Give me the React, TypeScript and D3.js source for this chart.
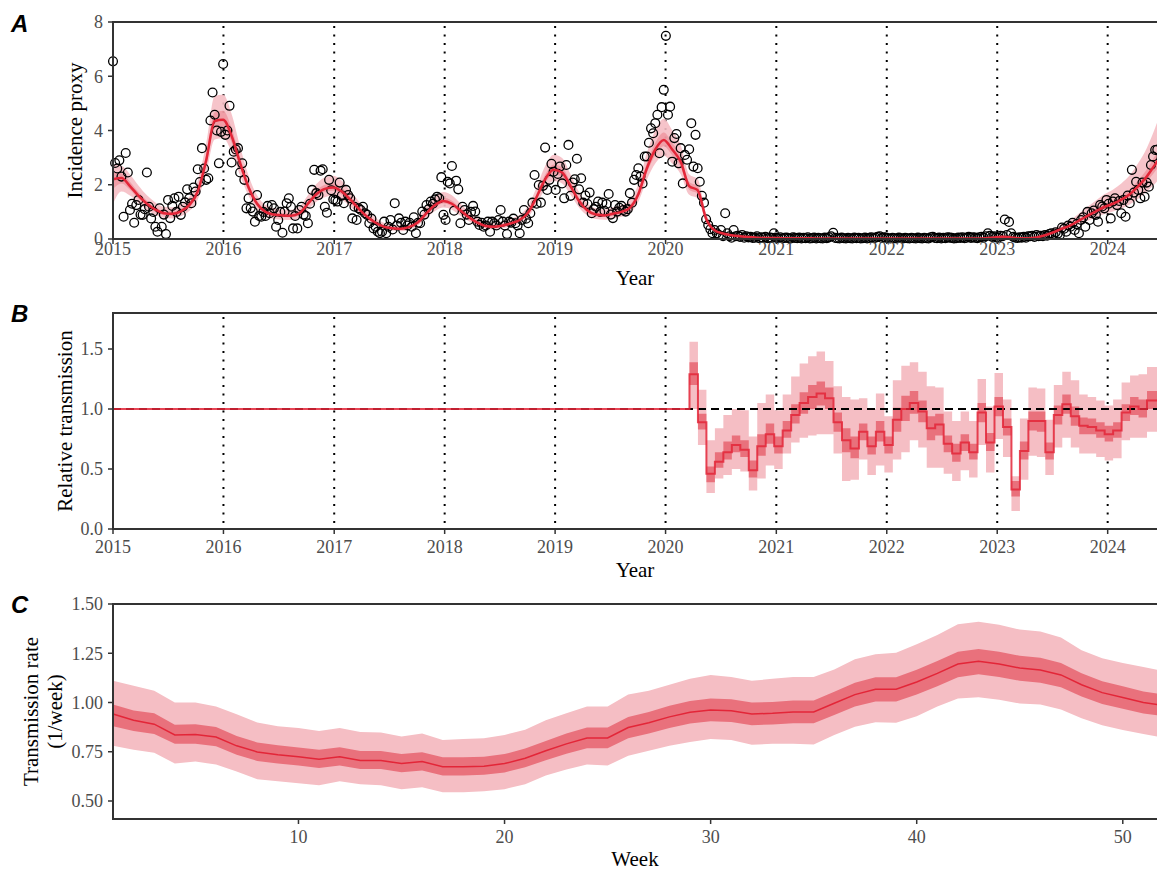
import React from 'react'
import * as d3 from 'd3'

const width = 1157
const height = 870
const left = 113
const right = 1157

const serif = "'Liberation Serif', 'DejaVu Serif', serif"
const axisColor = '#333333'
const tickText = '#4d4d4d'
const outerFill = '#f5bec4'
const innerFill = '#e9717c'
const lineColor = '#e32638'

const years = [2015, 2016, 2017, 2018, 2019, 2020, 2021, 2022, 2023, 2024]
const yTicksA = [0, 2, 4, 6, 8]
const yTicksB = [0, 0.5, 1.0, 1.5]
const yTicksC = [0.5, 0.75, 1.0, 1.25, 1.5]
const weekTicks = [10, 20, 30, 40, 50]

// weekly observations (incidence proxy), starting 2015-01-01
const obs2015 = [6.55, 2.8, 2.6, 2.9, 2.3, 0.82, 3.17, 2.45, 1.07, 1.3,
  0.6, 1.25, 1.44, 0.9, 0.89, 1.1, 2.45, 1.19, 0.76, 1.0,
  0.45, 0.27, 1.13, 0.45, 0.9, 0.18, 1.44, 0.77, 1.22, 1.5,
  1.0, 1.56, 0.89, 1.19, 1.35, 1.83, 1.5, 1.32, 1.9, 1.75,
  2.57, 2.1, 3.35, 2.6, 2.18, 2.24, 4.37, 5.4, 4.58, 4.0,
  2.79, 3.95, 6.45]
const obs2016 = [3.84, 4.0, 4.91, 2.82, 3.22, 3.3, 3.35, 2.45, 2.79, 2.18,
  1.13, 1.5, 1.14, 1.01, 0.64, 1.62, 0.85, 0.82, 1.0, 0.85,
  1.22, 0.95, 1.25, 1.13, 0.45, 0.7, 1.0, 0.23, 1.01, 1.32,
  1.5, 1.19, 0.39, 0.85, 0.39, 1.07, 1.19, 0.9, 0.85, 0.58,
  1.3, 1.81, 2.55, 1.69, 1.62, 2.52, 2.57, 1.19, 0.97, 2.18, 1.8, 1.46]
const obs2017 = [1.44, 1.38, 2.08, 1.6, 1.32, 1.81, 1.62, 1.5, 0.76, 1.19,
  0.7, 1.13, 1.07, 1.19, 0.95, 0.89, 0.58, 0.75, 0.39, 0.45,
  0.27, 0.21, 0.27, 0.64, 0.21, 0.45, 0.7, 0.35, 1.32, 0.5,
  0.76, 0.6, 0.33, 0.64, 0.5, 0.6, 0.45, 0.8, 0.21, 0.6,
  0.58, 1.01, 0.9, 1.25, 1.1, 1.38, 1.3, 1.46, 1.56, 1.5, 2.28, 0.89]
const obs2018 = [0.7, 2.11, 2.05, 2.69, 1.04, 2.15, 1.83, 0.58, 1.19, 1.07,
  0.9, 0.7, 1.0, 1.22, 1.01, 0.64, 0.52, 0.6, 0.45, 0.5,
  0.64, 0.27, 0.64, 0.58, 0.5, 0.7, 1.07, 0.64, 0.5, 0.18,
  0.64, 0.6, 0.75, 0.58, 0.5, 0.21, 0.7, 1.07, 0.75, 0.58,
  0.95, 1.34, 2.36, 1.3, 1.99, 1.34, 1.96, 3.37, 1.81, 2.18, 2.77, 2.48]
const obs2019 = [1.81, 2.4, 2.67, 2.05, 1.5, 2.73, 3.47, 1.59, 2.08, 2.2,
  2.96, 1.83, 2.24, 1.34, 1.6, 1.29, 1.71, 0.95, 1.1, 1.19,
  1.38, 1.0, 1.34, 1.04, 1.29, 1.66, 0.9, 0.77, 1.25, 1.01,
  1.15, 1.22, 1.07, 1.01, 1.1, 1.69, 1.34, 2.18, 2.36, 2.61,
  2.3, 2.05, 3.04, 3.04, 3.55, 4.08, 3.9, 4.27, 4.58, 3.16, 4.86, 5.5]
const obs2020 = [7.49, 4.58, 4.88, 2.85, 3.72, 3.87, 2.79, 3.35, 2.05, 3.1,
  2.92, 3.31, 4.27, 2.67, 3.84, 2.61, 2.11, 1.59, 1.34, 0.73,
  0.52, 0.36, 0.21, 0.33, 0.21, 0.15, 0.33, 0.1, 0.95, 0.21,
  0.1, 0.05, 0.33, 0.1, 0.12, 0.08, 0.15, 0.05, 0.1, 0.06,
  0.08, 0.04, 0.05, 0.1, 0.03, 0.06, 0.04, 0.08, 0.03, 0.05, 0.04, 0.21]
const obs2021 = [0.05, 0.03, 0.06, 0.02, 0.04, 0.05, 0.03, 0.02, 0.06, 0.04,
  0.03, 0.05, 0.02, 0.04, 0.03, 0.06, 0.02, 0.03, 0.05, 0.02,
  0.04, 0.03, 0.02, 0.05, 0.03, 0.06, 0.1, 0.23, 0.04, 0.03,
  0.02, 0.05, 0.03, 0.02, 0.04, 0.03, 0.02, 0.05, 0.03, 0.04,
  0.02, 0.03, 0.05, 0.02, 0.04, 0.06, 0.03, 0.05, 0.08, 0.1, 0.04, 0.06]
const obs2022 = [0.05, 0.03, 0.02, 0.04, 0.03, 0.02, 0.05, 0.03, 0.02, 0.04,
  0.03, 0.02, 0.04, 0.03, 0.02, 0.05, 0.03, 0.02, 0.04, 0.03,
  0.02, 0.06, 0.08, 0.04, 0.03, 0.05, 0.02, 0.04, 0.03, 0.06,
  0.05, 0.04, 0.02, 0.03, 0.05, 0.04, 0.06, 0.03, 0.05, 0.08,
  0.04, 0.06, 0.05, 0.03, 0.06, 0.08, 0.05, 0.1, 0.21, 0.12, 0.08, 0.1]
const obs2023 = [0.06, 0.05, 0.12, 0.1, 0.72, 0.15, 0.63, 0.21, 0.08, 0.05,
  0.04, 0.06, 0.05, 0.08, 0.05, 0.1, 0.1, 0.12, 0.08, 0.15,
  0.1, 0.12, 0.1, 0.15, 0.12, 0.18, 0.21, 0.15, 0.25, 0.2,
  0.15, 0.42, 0.38, 0.27, 0.5, 0.45, 0.6, 0.33, 0.55, 0.21,
  0.7, 0.8, 0.45, 1.0, 0.7, 0.95, 1.05, 0.89, 0.64, 1.25, 1.2, 1.13]
const obs2024 = [1.44, 1.3, 0.76, 1.38, 1.5, 1.25, 1.4, 0.95, 1.44, 0.82,
  1.6, 1.32, 2.55, 1.71, 2.11, 1.81, 1.5, 2.08, 1.56, 2.08,
  1.93, 2.73, 3.04, 3.28, 3.3]

// model fit for panel A, one node every 28 days from 2015-01-01
const fitMean = [2.2, 2.25, 1.95, 1.6, 1.3, 1.08, 0.95, 0.93, 1.02, 1.25,
  1.75, 2.9, 4.35, 4.4, 3.8, 2.8, 1.9, 1.3, 1.0, 0.9,
  0.87, 0.86, 0.95, 1.3, 1.65, 1.85, 1.9, 1.75, 1.45, 1.12,
  0.82, 0.6, 0.45, 0.4, 0.38, 0.45, 0.62, 0.95, 1.25, 1.4,
  1.3, 1.05, 0.8, 0.6, 0.48, 0.45, 0.5, 0.58, 0.7, 0.98,
  1.55, 2.2, 2.55, 2.45, 1.95, 1.4, 1.05, 0.9, 0.87, 0.93,
  1.0, 1.15, 1.65, 2.6, 3.3, 3.65, 3.3, 2.85, 1.95, 1.8,
  0.75, 0.32, 0.2, 0.14, 0.1, 0.07, 0.05, 0.04, 0.04, 0.03,
  0.03, 0.03, 0.03, 0.02, 0.02, 0.02, 0.02, 0.02, 0.02, 0.02,
  0.02, 0.02, 0.02, 0.02, 0.02, 0.02, 0.02, 0.02, 0.02, 0.02,
  0.02, 0.02, 0.02, 0.03, 0.06, 0.08, 0.06, 0.03, 0.03, 0.06,
  0.14, 0.25, 0.38, 0.5, 0.68, 0.85, 1.02, 1.18, 1.3, 1.45,
  1.65, 1.95, 2.3, 2.75, 3.2]
const fitLo95 = [1.3, 1.75, 1.6, 1.33, 1.08, 0.89, 0.78, 0.76, 0.84, 1.03,
  1.46, 2.44, 3.67, 3.71, 3.2, 2.35, 1.59, 1.08, 0.82, 0.74,
  0.71, 0.7, 0.78, 1.08, 1.37, 1.54, 1.59, 1.46, 1.2, 0.92,
  0.67, 0.48, 0.35, 0.31, 0.29, 0.35, 0.5, 0.78, 1.03, 1.16,
  1.08, 0.86, 0.65, 0.48, 0.38, 0.35, 0.4, 0.46, 0.57, 0.8,
  1.29, 1.84, 2.14, 2.05, 1.63, 1.16, 0.86, 0.74, 0.71, 0.76,
  0.82, 0.95, 1.37, 2.18, 2.78, 3.07, 2.78, 2.39, 1.63, 1.5,
  0.61, 0.24, 0.14, 0.09, 0.06, 0.03, 0.02, 0.01, 0.01, 0.01,
  0, 0, 0, 0, 0, 0, 0, 0, 0, 0,
  0, 0, 0, 0, 0, 0, 0, 0, 0, 0,
  0, 0, 0, 0, 0.02, 0.03, 0.02, 0, 0, 0.02,
  0.09, 0.18, 0.29, 0.39, 0.53, 0.66, 0.8, 0.92, 1.01, 1.12,
  1.27, 1.48, 1.74, 2.05, 2.4]
const fitHi95 = [2.75, 2.7, 2.39, 1.97, 1.61, 1.35, 1.19, 1.17, 1.27, 1.55,
  2.15, 3.53, 5.27, 5.33, 4.61, 3.41, 2.33, 1.61, 1.25, 1.13,
  1.09, 1.08, 1.19, 1.61, 2.03, 2.27, 2.33, 2.15, 1.79, 1.39,
  1.03, 0.77, 0.59, 0.53, 0.51, 0.59, 0.79, 1.19, 1.55, 1.73,
  1.61, 1.31, 1.01, 0.77, 0.63, 0.59, 0.65, 0.75, 0.89, 1.23,
  1.91, 2.69, 3.11, 2.99, 2.39, 1.73, 1.31, 1.13, 1.09, 1.17,
  1.25, 1.43, 2.03, 3.17, 4.01, 4.43, 4.01, 3.47, 2.39, 2.21,
  0.95, 0.43, 0.29, 0.22, 0.17, 0.13, 0.1, 0.08, 0.08, 0.07,
  0.07, 0.07, 0.07, 0.06, 0.06, 0.06, 0.06, 0.06, 0.06, 0.06,
  0.06, 0.06, 0.06, 0.06, 0.06, 0.06, 0.06, 0.06, 0.06, 0.06,
  0.06, 0.06, 0.06, 0.07, 0.12, 0.15, 0.12, 0.07, 0.07, 0.11,
  0.22, 0.37, 0.54, 0.7, 0.94, 1.18, 1.42, 1.65, 1.82, 2.05,
  2.35, 2.8, 3.35, 4.1, 5.0]
const fitLo50 = [1.85, 2.05, 1.82, 1.49, 1.21, 1.0, 0.88, 0.86, 0.95, 1.17,
  1.63, 2.72, 4.08, 4.13, 3.56, 2.62, 1.78, 1.21, 0.93, 0.84,
  0.81, 0.8, 0.88, 1.21, 1.54, 1.73, 1.78, 1.63, 1.35, 1.04,
  0.76, 0.55, 0.41, 0.37, 0.35, 0.41, 0.57, 0.88, 1.17, 1.31,
  1.21, 0.98, 0.74, 0.55, 0.44, 0.41, 0.46, 0.54, 0.65, 0.91,
  1.45, 2.06, 2.39, 2.29, 1.82, 1.31, 0.98, 0.84, 0.81, 0.86,
  0.93, 1.07, 1.54, 2.43, 3.09, 3.42, 3.09, 2.67, 1.82, 1.68,
  0.69, 0.29, 0.18, 0.12, 0.08, 0.06, 0.04, 0.03, 0.03, 0.02,
  0.02, 0.02, 0.02, 0.01, 0.01, 0.01, 0.01, 0.01, 0.01, 0.01,
  0.01, 0.01, 0.01, 0.01, 0.01, 0.01, 0.01, 0.01, 0.01, 0.01,
  0.01, 0.01, 0.01, 0.02, 0.05, 0.07, 0.05, 0.02, 0.02, 0.05,
  0.12, 0.22, 0.35, 0.46, 0.63, 0.79, 0.95, 1.09, 1.2, 1.33,
  1.51, 1.78, 2.1, 2.5, 2.9]
const fitHi50 = [2.45, 2.42, 2.11, 1.73, 1.41, 1.18, 1.04, 1.02, 1.11, 1.36,
  1.89, 3.12, 4.67, 4.73, 4.09, 3.02, 2.05, 1.41, 1.09, 0.98,
  0.95, 0.94, 1.04, 1.41, 1.79, 2.0, 2.05, 1.89, 1.57, 1.22,
  0.9, 0.66, 0.5, 0.45, 0.43, 0.5, 0.68, 1.04, 1.36, 1.52,
  1.41, 1.14, 0.88, 0.66, 0.53, 0.5, 0.56, 0.64, 0.77, 1.07,
  1.68, 2.37, 2.75, 2.64, 2.11, 1.52, 1.14, 0.98, 0.95, 1.02,
  1.09, 1.25, 1.79, 2.8, 3.55, 3.93, 3.55, 3.07, 2.11, 1.95,
  0.82, 0.36, 0.23, 0.17, 0.13, 0.09, 0.07, 0.05, 0.05, 0.04,
  0.04, 0.04, 0.04, 0.03, 0.03, 0.03, 0.03, 0.03, 0.03, 0.03,
  0.03, 0.03, 0.03, 0.03, 0.03, 0.03, 0.03, 0.03, 0.03, 0.03,
  0.03, 0.03, 0.03, 0.04, 0.08, 0.1, 0.08, 0.04, 0.04, 0.08,
  0.17, 0.29, 0.43, 0.56, 0.75, 0.93, 1.12, 1.3, 1.43, 1.6,
  1.83, 2.16, 2.56, 3.08, 3.6]

// panel B: relative transmission in 28-day blocks starting 2020-03-20 (1 before)
const relMid = [1.29, 0.89, 0.46, 0.56, 0.64, 0.70, 0.66, 0.49, 0.69, 0.79,
  0.69, 0.82, 0.95, 1.05, 1.10, 1.13, 1.09, 0.89, 0.74, 0.67,
  0.81, 0.69, 0.81, 0.70, 0.91, 1.00, 1.05, 0.98, 0.84, 0.87,
  0.71, 0.63, 0.72, 0.64, 0.97, 0.72, 1.02, 0.85, 0.33, 0.65,
  0.90, 0.90, 0.64, 0.95, 1.04, 0.94, 0.86, 0.85, 0.82, 0.79,
  0.82, 0.97, 1.02, 1.00, 1.07]
const relLo95 = [1.00, 0.70, 0.30, 0.42, 0.45, 0.50, 0.48, 0.32, 0.42, 0.53,
  0.50, 0.63, 0.72, 0.76, 0.78, 0.79, 0.79, 0.63, 0.40, 0.41,
  0.58, 0.45, 0.53, 0.47, 0.58, 0.64, 0.74, 0.68, 0.51, 0.51,
  0.46, 0.40, 0.49, 0.43, 0.70, 0.47, 0.75, 0.60, 0.15, 0.41,
  0.61, 0.60, 0.45, 0.68, 0.76, 0.68, 0.63, 0.63, 0.60, 0.57,
  0.59, 0.74, 0.76, 0.76, 0.81]
const relHi95 = [1.56, 1.16, 0.74, 0.84, 0.95, 1.00, 0.99, 0.77, 1.05, 1.12,
  0.99, 1.12, 1.27, 1.38, 1.44, 1.48, 1.40, 1.19, 1.10, 1.08,
  1.09, 1.00, 1.13, 0.94, 1.24, 1.36, 1.39, 1.31, 1.19, 1.18,
  0.98, 0.90, 0.98, 0.90, 1.25, 1.02, 1.30, 1.08, 0.44, 0.92,
  1.18, 1.17, 0.91, 1.20, 1.31, 1.24, 1.12, 1.10, 1.07, 1.03,
  1.08, 1.22, 1.28, 1.29, 1.35]
const relLo50 = [1.20, 0.83, 0.39, 0.51, 0.58, 0.64, 0.60, 0.43, 0.61, 0.71,
  0.63, 0.76, 0.88, 0.96, 1.00, 1.03, 1.00, 0.81, 0.64, 0.59,
  0.74, 0.62, 0.73, 0.63, 0.81, 0.90, 0.96, 0.89, 0.74, 0.78,
  0.64, 0.56, 0.65, 0.58, 0.89, 0.65, 0.94, 0.78, 0.27, 0.58,
  0.82, 0.81, 0.58, 0.87, 0.96, 0.86, 0.79, 0.79, 0.76, 0.73,
  0.76, 0.90, 0.95, 0.93, 1.00]
const relHi50 = [1.39, 0.96, 0.52, 0.64, 0.73, 0.78, 0.74, 0.57, 0.79, 0.88,
  0.77, 0.90, 1.04, 1.14, 1.20, 1.23, 1.18, 0.97, 0.84, 0.77,
  0.88, 0.77, 0.90, 0.77, 1.01, 1.11, 1.15, 1.07, 0.94, 0.96,
  0.78, 0.71, 0.79, 0.71, 1.05, 0.80, 1.10, 0.92, 0.40, 0.73,
  0.98, 0.98, 0.72, 1.03, 1.12, 1.02, 0.93, 0.92, 0.89, 0.86,
  0.89, 1.04, 1.10, 1.08, 1.15]

// panel C: seasonal transmission rate, weeks 1..52
const rateMean = [0.942, 0.91, 0.89, 0.835, 0.837, 0.825, 0.78, 0.749, 0.735, 0.725,
  0.712, 0.725, 0.706, 0.706, 0.69, 0.70, 0.674, 0.674, 0.677, 0.69,
  0.717, 0.755, 0.79, 0.82, 0.82, 0.873, 0.897, 0.927, 0.95, 0.962,
  0.958, 0.942, 0.945, 0.952, 0.952, 0.996, 1.04, 1.067, 1.067, 1.104,
  1.148, 1.195, 1.209, 1.195, 1.175, 1.165, 1.14, 1.09, 1.05, 1.025,
  1.0, 0.985]
const rateHi95 = [1.11, 1.085, 1.06, 1.0, 1.0, 0.98, 0.94, 0.898, 0.88, 0.87,
  0.855, 0.87, 0.85, 0.848, 0.827, 0.843, 0.81, 0.815, 0.818, 0.835,
  0.862, 0.91, 0.946, 0.98, 0.98, 1.04, 1.06, 1.09, 1.12, 1.14,
  1.13, 1.11, 1.12, 1.13, 1.13, 1.167, 1.22, 1.245, 1.252, 1.296,
  1.343, 1.397, 1.41, 1.395, 1.37, 1.36, 1.33, 1.265, 1.225, 1.2,
  1.18, 1.16]
const rateLo95 = [0.78, 0.76, 0.745, 0.69, 0.70, 0.685, 0.65, 0.61, 0.60, 0.59,
  0.58, 0.60, 0.585, 0.58, 0.56, 0.57, 0.545, 0.545, 0.55, 0.56,
  0.585, 0.63, 0.66, 0.685, 0.68, 0.73, 0.755, 0.78, 0.80, 0.815,
  0.81, 0.785, 0.79, 0.79, 0.787, 0.835, 0.877, 0.90, 0.897, 0.93,
  0.98, 1.02, 1.027, 1.014, 0.995, 0.99, 0.965, 0.92, 0.885, 0.86,
  0.84, 0.82]
const rateHi50 = [0.99, 0.96, 0.945, 0.887, 0.89, 0.875, 0.83, 0.797, 0.783, 0.772,
  0.76, 0.773, 0.754, 0.754, 0.738, 0.748, 0.722, 0.722, 0.725, 0.738,
  0.766, 0.805, 0.842, 0.873, 0.873, 0.927, 0.952, 0.983, 1.007, 1.02,
  1.016, 1.0, 1.003, 1.01, 1.01, 1.055, 1.1, 1.128, 1.128, 1.166,
  1.211, 1.258, 1.272, 1.258, 1.237, 1.227, 1.201, 1.149, 1.108, 1.082,
  1.056, 1.04]
const rateLo50 = [0.88, 0.855, 0.84, 0.79, 0.79, 0.778, 0.735, 0.703, 0.69, 0.68,
  0.668, 0.68, 0.662, 0.662, 0.646, 0.655, 0.63, 0.63, 0.633, 0.645,
  0.671, 0.707, 0.74, 0.768, 0.768, 0.819, 0.842, 0.871, 0.893, 0.905,
  0.901, 0.885, 0.888, 0.895, 0.895, 0.937, 0.98, 1.005, 1.005, 1.04,
  1.083, 1.128, 1.143, 1.13, 1.11, 1.1, 1.077, 1.03, 0.992, 0.968,
  0.944, 0.93]

const start = new Date(2015, 0, 1)
const end = new Date(2024, 5, 12)
const relStart = new Date(2020, 2, 20)

const panelA = { top: 22, bottom: 239 }
const panelB = { top: 313, bottom: 529 }
const panelC = { top: 604, bottom: 819 }

type Band = { d: Date | number, m: number, l95: number, h95: number, l50: number, h50: number }

const App = () => {
  const x = d3.scaleTime().domain([start, end]).range([left, right])
  const yA = d3.scaleLinear().domain([0, 8]).range([panelA.bottom, panelA.top])
  const yB = d3.scaleLinear().domain([0, 1.8]).range([panelB.bottom, panelB.top])
  const xC = d3.scaleLinear().domain([1, 52]).range([left, 1164])
  const yC = d3.scaleLinear().domain([0.4086, 1.5]).range([panelC.bottom, panelC.top])

  const obs = [...obs2015, ...obs2016, ...obs2017, ...obs2018, ...obs2019,
    ...obs2020, ...obs2021, ...obs2022, ...obs2023, ...obs2024]
    .map((v, i) => ({ d: d3.timeDay.offset(start, 7 * i), v }))

  const fit: Band[] = fitMean.map((m, i) => ({
    d: d3.timeDay.offset(start, 28 * i), m,
    l95: fitLo95[i], h95: fitHi95[i], l50: fitLo50[i], h50: fitHi50[i]
  }))

  const rel: Band[] = [{ d: start, m: 1, l95: 1, h95: 1, l50: 1, h50: 1 }]
  relMid.forEach((m, i) => rel.push({
    d: d3.timeDay.offset(relStart, 28 * i), m,
    l95: relLo95[i], h95: relHi95[i], l50: relLo50[i], h50: relHi50[i]
  }))
  const lastRel = rel[rel.length - 1]
  rel.push({ ...lastRel, d: end })

  const rate: Band[] = rateMean.map((m, i) => ({
    d: i + 1, m, l95: rateLo95[i], h95: rateHi95[i], l50: rateLo50[i], h50: rateHi50[i]
  }))

  const bandPaths = (data: Band[], xs: any, ys: any, curve: any) => {
    const outer = d3.area<Band>().x(d => xs(d.d)).y0(d => ys(d.l95)).y1(d => ys(d.h95)).curve(curve)
    const inner = d3.area<Band>().x(d => xs(d.d)).y0(d => ys(d.l50)).y1(d => ys(d.h50)).curve(curve)
    const mid = d3.line<Band>().x(d => xs(d.d)).y(d => ys(d.m)).curve(curve)
    return { outer: outer(data) || '', inner: inner(data) || '', mid: mid(data) || '' }
  }

  const pA = bandPaths(fit, x, yA, d3.curveMonotoneX)
  const pB = bandPaths(rel, x, yB, d3.curveStepAfter)
  const pC = bandPaths(rate, xC, yC, d3.curveLinear)

  const frame = (p: { top: number, bottom: number }) => (
    <g>
      <line x1={left} x2={right} y1={p.top} y2={p.top} stroke={axisColor} strokeWidth={2} />
      <line x1={left} x2={right} y1={p.bottom} y2={p.bottom} stroke={axisColor} strokeWidth={2} />
      <line x1={left} x2={left} y1={p.top - 1} y2={p.bottom + 1} stroke={axisColor} strokeWidth={2} />
    </g>
  )

  const yAxis = (ticks: number[], ys: any, fmt: (v: number) => string) => (
    <g>
      {ticks.map(t => (
        <g key={t}>
          <line x1={left - 5} x2={left} y1={ys(t)} y2={ys(t)} stroke={axisColor} strokeWidth={1.5} />
          <text x={left - 10} y={ys(t)} dy="0.35em" textAnchor="end" fontSize={18} fill={tickText} fontFamily={serif}>{fmt(t)}</text>
        </g>
      ))}
    </g>
  )

  const yearAxis = (p: { bottom: number }, labelY: number) => (
    <g>
      {years.map(yr => {
        const px = x(new Date(yr, 0, 1))
        return (
          <g key={yr}>
            <line x1={px} x2={px} y1={p.bottom} y2={p.bottom + 5} stroke={axisColor} strokeWidth={1.5} />
            <text x={px} y={labelY} textAnchor="middle" fontSize={18} fill={tickText} fontFamily={serif}>{yr}</text>
          </g>
        )
      })}
    </g>
  )

  const yearGuides = (p: { top: number, bottom: number }) => (
    <g>
      {years.slice(1).map(yr => {
        const px = x(new Date(yr, 0, 1))
        return <line key={yr} x1={px} x2={px} y1={p.top + 4} y2={p.bottom - 2} stroke="#000" strokeWidth={2} strokeDasharray="2 6.5" />
      })}
    </g>
  )

  const panelLetter = (s: string, yPos: number) => (
    <text x={11} y={yPos} fontSize={24} fontWeight="bold" fontStyle="italic" fontFamily="'Liberation Sans', Arial, sans-serif">{s}</text>
  )

  const midX = (left + right) / 2

  return (
    <svg width={width} height={height} style={{ position: 'absolute', left: 0, top: 0, background: '#fff' }}>
      <rect width={width} height={height} fill="#fff" />

      {/* Panel A */}
      {panelLetter('A', 32)}
      {yearGuides(panelA)}
      <path d={pA.outer} fill={outerFill} opacity={0.9} />
      <path d={pA.inner} fill={innerFill} opacity={0.45} />
      {obs.map((o, i) => (
        <circle key={i} cx={x(o.d)} cy={yA(o.v)} r={4.4} fill="none" stroke="#000" strokeWidth={1.3} />
      ))}
      <path d={pA.mid} fill="none" stroke={lineColor} strokeWidth={2.5} />
      {frame(panelA)}
      {yAxis(yTicksA, yA, v => String(v))}
      {yearAxis(panelA, 255)}
      <text x={midX} y={285} textAnchor="middle" fontSize={21} fontFamily={serif}>Year</text>
      <text transform={`translate(82, ${(panelA.top + panelA.bottom) / 2}) rotate(-90)`} textAnchor="middle" fontSize={21} fontFamily={serif}>Incidence proxy</text>

      {/* Panel B */}
      {panelLetter('B', 322)}
      {yearGuides(panelB)}
      <path d={pB.outer} fill={outerFill} />
      <path d={pB.inner} fill={innerFill} />
      <line x1={left} x2={right} y1={yB(1)} y2={yB(1)} stroke="#000" strokeWidth={2} strokeDasharray="8 5" />
      <path d={pB.mid} fill="none" stroke={lineColor} strokeWidth={2} opacity={0.85} />
      {frame(panelB)}
      {yAxis(yTicksB, yB, v => v.toFixed(1))}
      {yearAxis(panelB, 553)}
      <text x={midX} y={577} textAnchor="middle" fontSize={21} fontFamily={serif}>Year</text>
      <text transform={`translate(72, ${(panelB.top + panelB.bottom) / 2}) rotate(-90)`} textAnchor="middle" fontSize={21} fontFamily={serif}>Relative transmission</text>

      {/* Panel C */}
      {panelLetter('C', 613)}
      <path d={pC.outer} fill={outerFill} />
      <path d={pC.inner} fill={innerFill} />
      <path d={pC.mid} fill="none" stroke={lineColor} strokeWidth={1.5} />
      {frame(panelC)}
      {yAxis(yTicksC, yC, v => v.toFixed(2))}
      {weekTicks.map(t => (
        <g key={t}>
          <line x1={xC(t)} x2={xC(t)} y1={panelC.bottom} y2={panelC.bottom + 5} stroke={axisColor} strokeWidth={1.5} />
          <text x={xC(t)} y={843} textAnchor="middle" fontSize={18} fill={tickText} fontFamily={serif}>{t}</text>
        </g>
      ))}
      <text x={midX} y={866} textAnchor="middle" fontSize={21} fontFamily={serif}>Week</text>
      <text transform={`translate(38, ${(panelC.top + panelC.bottom) / 2}) rotate(-90)`} textAnchor="middle" fontSize={21} fontFamily={serif}>Transmission rate</text>
      <text transform={`translate(62, ${(panelC.top + panelC.bottom) / 2}) rotate(-90)`} textAnchor="middle" fontSize={21} fontFamily={serif}>(1/week)</text>
    </svg>
  )
}

export default App
